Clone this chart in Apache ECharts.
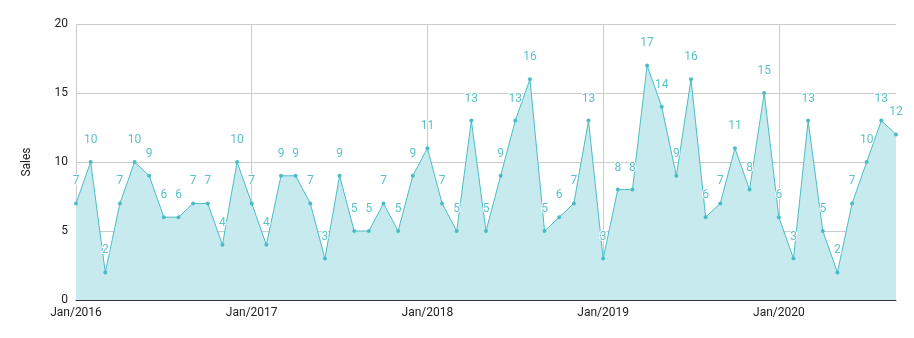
<!DOCTYPE html>
<html><head><meta charset="utf-8">
<script src="https://cdn.jsdelivr.net/npm/echarts@6/dist/echarts.min.js"></script>
<style>html,body{margin:0;padding:0;background:#fff}#c{width:914px;height:338px}</style>
</head><body><div id="c"></div>
<script>
const categories = [
"Jan/2016","Feb/2016","Mar/2016","Apr/2016","May/2016","Jun/2016","Jul/2016","Aug/2016","Sep/2016","Oct/2016","Nov/2016","Dec/2016",
"Jan/2017","Feb/2017","Mar/2017","Apr/2017","May/2017","Jun/2017","Jul/2017","Aug/2017","Sep/2017","Oct/2017","Nov/2017","Dec/2017",
"Jan/2018","Feb/2018","Mar/2018","Apr/2018","May/2018","Jun/2018","Jul/2018","Aug/2018","Sep/2018","Oct/2018","Nov/2018","Dec/2018",
"Jan/2019","Feb/2019","Mar/2019","Apr/2019","May/2019","Jun/2019","Jul/2019","Aug/2019","Sep/2019","Oct/2019","Nov/2019","Dec/2019",
"Jan/2020","Feb/2020","Mar/2020","Apr/2020","May/2020","Jun/2020","Jul/2020","Aug/2020","Sep/2020"
];
const sales = [
7,10,2,7,10,9,6,6,7,7,4,10,
7,4,9,9,7,3,9,5,5,7,5,9,
11,7,5,13,5,9,13,16,5,6,7,13,
3,8,8,17,14,9,16,6,7,11,8,15,
6,3,13,5,2,7,10,13,12
];
const yTicks = {min:0, max:20, interval:5};

const chart = echarts.init(document.getElementById('c'));
const yearTick = (i) => i % 12 === 0;
chart.setOption({
  animation:false,
  textStyle:{fontFamily:'Roboto'},
  grid:{left:76,right:18,top:24,bottom:38},
  xAxis:{
    type:'category', data:categories, boundaryGap:false,
    axisLine:{lineStyle:{color:'#333',width:1}},
    axisTick:{show:false},
    axisLabel:{interval:(i)=>yearTick(i), color:'#222', fontSize:12, margin:7},
    splitLine:{show:true, interval:(i)=>yearTick(i), lineStyle:{color:'#ccc',width:1}}
  },
  yAxis:{
    type:'value', min:yTicks.min, max:yTicks.max, interval:yTicks.interval,
    name:'Sales', nameLocation:'middle', nameGap:43, nameRotate:90,
    nameTextStyle:{color:'#222',fontSize:12},
    axisLine:{show:false}, axisTick:{show:false},
    axisLabel:{color:'#222',fontSize:12,margin:8},
    splitLine:{lineStyle:{color:'#ccc',width:1}}
  },
  series:[{
    type:'line', data:sales,
    symbol:'circle', symbolSize:4, showAllSymbol:true,
    lineStyle:{color:'#4bbcc5',width:1},
    itemStyle:{color:'#4bbcc5'},
    areaStyle:{color:'#c7eaee',opacity:1},
    label:{show:true, position:'top', distance:14, color:'#5cc2ca', fontSize:12,
      textBorderColor:'#fff', textBorderWidth:2}
  }]
});
</script></body></html>
